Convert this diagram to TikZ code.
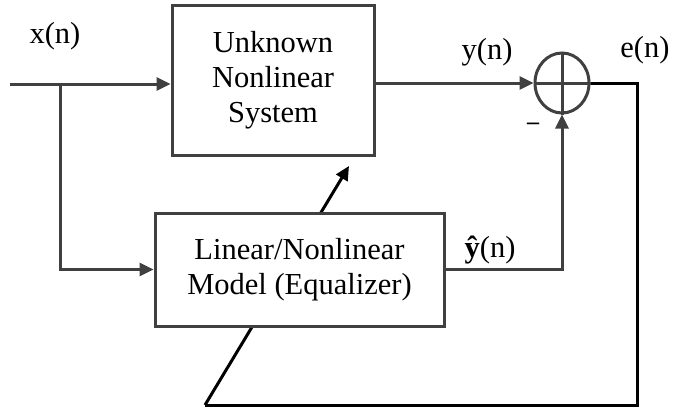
\documentclass[tikz,border=0pt]{standalone}
\usepackage{fontspec}
\setmainfont{Liberation Serif}
\usetikzlibrary{arrows.meta,shapes.geometric}
\begin{document}
\begin{tikzpicture}[x=1pt,y=-1pt,
  ln/.style={line width=3pt, draw=black!75, line join=miter},
  fbl/.style={line width=3pt, draw=black, line join=miter},
  tip/.style={-{Triangle[length=14pt,width=13pt]}},
  blk/.style={ln, fill=white, inner sep=0pt, align=center, font=\fontsize{30.5}{35}\selectfont},
  lbl/.style={inner sep=0pt, font=\fontsize{30.5}{34}\selectfont}]
\useasboundingbox (0,0) rectangle (673,413);
% blocks
\node[blk, minimum width=202pt, minimum height=150pt] (sys) at (273,80) {Unknown\\Nonlinear\\System};
\node[ellipse, ln, minimum width=54pt, minimum height=60pt, inner sep=0pt] (sum) at (562,83) {};
\draw[ln] (sum.north) -- (sum.south) (sum.west) -- (sum.east);
% error feedback path (drawn before the model box so the box hides the middle)
\coordinate (fr) at (637,405);
\coordinate (fl) at (205,405);
\coordinate (atip) at (349,166);
\draw[fbl] (sum.east) -| (fr) -- (fl);
\draw[fbl, tip] (fl) -- (atip);
\node[blk, minimum width=289pt, minimum height=113pt] (mdl) at (299.5,269.5) {Linear/Nonlinear\\Model (Equalizer)};
% signal connectors
\coordinate (in) at (10,84);
\coordinate (br) at (60,84);
\draw[ln, tip] (in) -- (in -| sys.west);
\draw[ln, tip] (br) |- (mdl.west);
\draw[ln, tip] (sum.west -| sys.east) -- (sum.west);
\draw[ln, tip] (mdl.east) -| (sum.south);
% labels
\node[lbl] (lx) at (55,36) {x(n)};
\node[lbl] (ly) at (487,52) {y(n)};
\node[lbl] (le) at (645,50) {e(n)};
\node[lbl] (lyh) at (490,250) {{\bfseries ŷ}(n)};
\node[inner sep=0pt, font=\fontsize{24}{26}\bfseries] (lm) at (533,126) {–};
\end{tikzpicture}
\end{document}
